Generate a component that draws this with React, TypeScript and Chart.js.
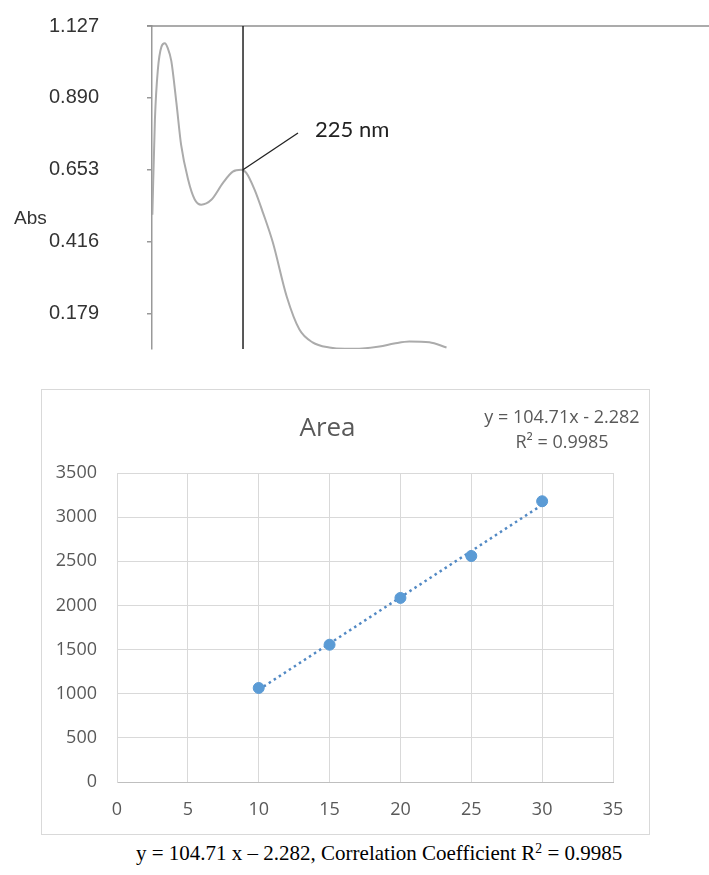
import React, { useEffect, useRef } from "react";
import { Chart, registerables } from "chart.js";

Chart.register(...registerables);

// ---------- Top: UV spectrum ----------
const wavelengthsNm = [
  200.1, 200.8, 201.6, 202.6, 203.5, 204.3, 205.3, 206.7, 208.0, 209.9,
  211.7, 213.5, 216.3, 219.5, 222.2, 224.5, 225.9, 228.2, 230.5, 233.2,
  237.0, 240.5, 244.1, 248.7, 253.0, 257.8, 262.5, 266.5, 270.7, 276.2, 280.9,
];
const absorbance = [
  0.505, 0.818, 0.982, 1.059, 1.07, 1.055, 1.012, 0.874, 0.735, 0.622,
  0.556, 0.538, 0.554, 0.61, 0.647, 0.653, 0.643, 0.587, 0.511, 0.413,
  0.235, 0.126, 0.084, 0.067, 0.063, 0.064, 0.07, 0.08, 0.087, 0.084, 0.067,
];
const absTicks = [0.179, 0.416, 0.653, 0.89, 1.127];
const absMin = 0.062;
const absMax = 1.127;
const nmMin = 200;
const nmMax = 353;
const markerNm = 225;
const markerAbs = 0.653;
const markerLabel = "225 nm";
const leaderEndNm = 240.1;
const leaderEndAbs = 0.774;
const labelNm = 244.8;
const labelAbs = 0.784;
const yAxisLabel = "Abs";

// ---------- Bottom: calibration ----------
const chartTitle = "Area";
const concentrations = [10, 15, 20, 25, 30];
const areas = [1065, 1555, 2085, 2560, 3180];
const trendX = [10, 30];
const trendY = [1045, 3139];
const eqLine1 = "y = 104.71x - 2.282";
const eqLine2 = "R² = 0.9985";

const specPlugin = {
  id: "specDecor",
  afterDatasetsDraw(chart: any) {
    const { ctx, chartArea } = chart;
    const xs = chart.scales.x;
    const ys = chart.scales.y;
    ctx.save();
    ctx.strokeStyle = "#8f8f8f";
    ctx.lineWidth = 1.5;
    ctx.beginPath();
    ctx.moveTo(chartArea.left - 5, chartArea.top);
    ctx.lineTo(chartArea.right, chartArea.top);
    ctx.stroke();
    const mx = xs.getPixelForValue(markerNm);
    ctx.strokeStyle = "#222";
    ctx.lineWidth = 1.5;
    ctx.beginPath();
    ctx.moveTo(mx, chartArea.top);
    ctx.lineTo(mx, chartArea.bottom);
    ctx.stroke();
    ctx.lineWidth = 1.3;
    ctx.beginPath();
    ctx.moveTo(mx, ys.getPixelForValue(markerAbs));
    ctx.lineTo(xs.getPixelForValue(leaderEndNm), ys.getPixelForValue(leaderEndAbs));
    ctx.stroke();
    ctx.fillStyle = "#222";
    ctx.font = '22px Lato, "Open Sans", sans-serif';
    ctx.textAlign = "left";
    ctx.textBaseline = "middle";
    ctx.fillText(markerLabel, xs.getPixelForValue(labelNm), ys.getPixelForValue(labelAbs));
    ctx.restore();
  },
};

const eqPlugin = {
  id: "eqText",
  afterDraw(chart: any) {
    const { ctx, chartArea } = chart;
    ctx.save();
    ctx.fillStyle = "#595959";
    ctx.font = '18px "Open Sans", sans-serif';
    ctx.textAlign = "center";
    ctx.textBaseline = "middle";
    const cx = chartArea.right - 51;
    ctx.fillText(eqLine1, cx, chartArea.top - 55);
    ctx.fillText(eqLine2, cx, chartArea.top - 30);
    ctx.restore();
  },
};

export default function App() {
  const topRef = useRef<HTMLCanvasElement>(null);
  const botRef = useRef<HTMLCanvasElement>(null);

  useEffect(() => {
    const top = new Chart(topRef.current!, {
      type: "line",
      data: {
        datasets: [
          {
            data: wavelengthsNm.map((w, i) => ({ x: w, y: absorbance[i] })),
            borderColor: "#ababab",
            borderWidth: 2,
            pointRadius: 0,
            cubicInterpolationMode: "monotone",
            fill: false,
          },
        ],
      },
      options: {
        animation: false,
        responsive: false,
        layout: { padding: { left: 0, right: 0, top: 26, bottom: 13 } },
        plugins: { legend: { display: false }, tooltip: { enabled: false } },
        scales: {
          x: { type: "linear", min: nmMin, max: nmMax, display: false },
          y: {
            min: absMin,
            max: absMax,
            afterBuildTicks: (s: any) => {
              s.ticks = absTicks.map((v) => ({ value: v }));
            },
            afterFit: (s: any) => {
              s.width = 152;
              s.paddingTop = 0;
              s.paddingBottom = 0;
            },
            ticks: {
              callback: (v: any) => Number(v).toFixed(3),
              color: "#333",
              font: { family: '"Liberation Sans", Arial, sans-serif', size: 20 },
              padding: 48,
            },
            grid: { drawOnChartArea: false, drawTicks: true, tickLength: 5, color: "#999", lineWidth: 1.5 },
            border: { color: "#999", width: 1.5 },
          },
        },
      },
      plugins: [specPlugin],
    } as any);

    const bot = new Chart(botRef.current!, {
      type: "scatter",
      data: {
        datasets: [
          {
            data: concentrations.map((c, i) => ({ x: c, y: areas[i] })),
            backgroundColor: "#5b9bd5",
            borderColor: "#5b9bd5",
            pointRadius: 5.5,
            showLine: false,
          },
          {
            data: trendX.map((c, i) => ({ x: c, y: trendY[i] })),
            borderColor: "#5289c4",
            borderWidth: 2.5,
            borderDash: [2.5, 3.5],
            pointRadius: 0,
            showLine: true,
          },
        ],
      },
      options: {
        animation: false,
        responsive: false,
        layout: { padding: { left: 0, right: 36, top: 0, bottom: 13.4 } },
        plugins: {
          legend: { display: false },
          tooltip: { enabled: false },
          title: {
            display: true,
            text: chartTitle,
            color: "#595959",
            font: { family: '"Open Sans", sans-serif', size: 26, weight: "normal" },
            padding: { top: 23, bottom: 28.8 },
          },
        },
        scales: {
          x: {
            type: "linear",
            min: 0,
            max: 35,
            afterFit: (s: any) => {
              s.height = 38.6;
            },
            ticks: {
              stepSize: 5,
              callback: (v: any) => String(v),
              color: "#595959",
              font: { family: '"Open Sans", sans-serif', size: 18 },
              padding: 17,
            },
            grid: { color: "#d9d9d9", drawTicks: false },
            border: { color: "#bfbfbf" },
          },
          y: {
            min: 0,
            max: 3500,
            afterFit: (s: any) => {
              s.width = 75;
              s.paddingTop = 0;
              s.paddingBottom = 0;
            },
            ticks: {
              stepSize: 500,
              callback: (v: any) => String(v),
              color: "#595959",
              font: { family: '"Open Sans", sans-serif', size: 18 },
              padding: 20,
            },
            grid: { color: "#d9d9d9", drawTicks: false },
            border: { color: "#d9d9d9" },
          },
        },
      },
      plugins: [eqPlugin],
    } as any);

    return () => {
      top.destroy();
      bot.destroy();
    };
  }, []);

  return (
    <div style={{ position: "absolute", left: 0, top: 0, width: 709, height: 875, background: "#fff", overflow: "hidden" }}>
      <canvas ref={topRef} width={709} height={362} style={{ position: "absolute", left: 0, top: 0 }} />
      <div
        style={{
          position: "absolute",
          left: 14,
          top: 207,
          font: '19px "Liberation Sans", Arial, sans-serif',
          lineHeight: "22px",
          color: "#333",
        }}
      >
        {yAxisLabel}
      </div>
      <div
        style={{
          position: "absolute",
          left: 41,
          top: 389,
          width: 607,
          height: 444,
          border: "1px solid #d9d9d9",
          background: "#fff",
        }}
      >
        <canvas ref={botRef} width={607} height={444} style={{ display: "block" }} />
      </div>
      <div
        style={{
          position: "absolute",
          left: 136,
          top: 840,
          whiteSpace: "nowrap",
          font: '21px "Liberation Serif", "Times New Roman", serif',
          lineHeight: "26px",
          color: "#000",
        }}
      >
        y = 104.71 x – 2.282, Correlation Coefficient R
        <span style={{ fontSize: "0.65em", position: "relative", top: "-0.55em" }}>2</span> = 0.9985
      </div>
    </div>
  );
}
